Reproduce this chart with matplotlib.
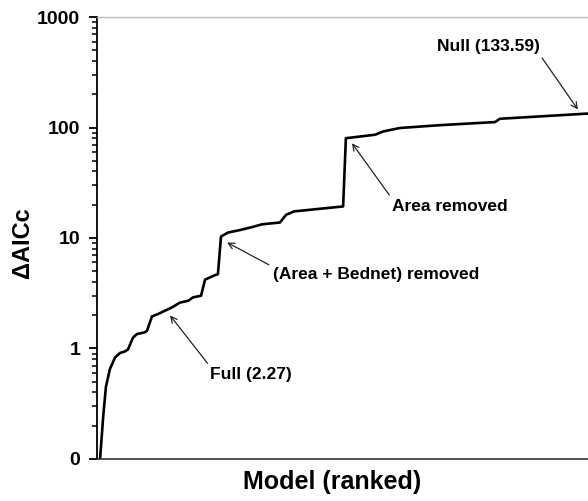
import matplotlib
matplotlib.use('Agg')
import matplotlib.pyplot as plt
from matplotlib.ticker import FixedLocator, FixedFormatter, LogLocator, NullFormatter

plt.rcParams['font.family'] = ['Liberation Sans', 'DejaVu Sans']
plt.rcParams['font.weight'] = 'bold'

# model rank (position along x) and delta AICc
rank = [1.0, 2.0, 2.9, 4.2, 5.9, 7.5, 9.1, 10.1, 11.7, 13.0, 15.6, 16.3, 17.9,
        19.9, 22.2, 24.4, 27.0, 29.7, 31.3, 33.9, 35.2, 38.4, 39.4, 40.4, 42.7,
        46.6, 50.8, 53.8, 59.6, 61.6, 64.2, 80.2, 81.1, 90.6, 93.2, 98.7,
        111.8, 129.7, 131.3, 159.7]
daicc = [0.1, 0.24, 0.45, 0.65, 0.83, 0.91, 0.94, 0.98, 1.25, 1.35, 1.4, 1.45,
         1.95, 2.05, 2.2, 2.35, 2.6, 2.7, 2.9, 3.0, 4.2, 4.6, 4.7, 10.3, 11.2,
         11.8, 12.6, 13.3, 13.8, 16.2, 17.4, 19.3, 80.0, 86.0, 92.0, 99.0,
         105.0, 112.0, 120.0, 133.59]

ytick_vals = [0.1, 1, 10, 100, 1000]
ytick_labels = ['0', '1', '10', '100', '1000']

# annotation: label, arrow tip, text position, arrow start corner
notes = [
    ('Null (133.59)', (156.7, 145.6), (127.4, 540.0), (1, 0)),
    ('Area removed', (83.1, 72.0), (115.0, 19.3), (0, 1)),
    ('(Area + Bednet) removed', (42.4, 9.1), (90.9, 4.68), (0, 1)),
    ('Full (2.27)', (23.8, 1.99), (50.3, 0.58), (0, 1)),
]

fig = plt.figure(figsize=(5.88, 5.01), dpi=100)
ax = fig.add_axes([0.165, 0.084, 0.835, 0.882])

ax.plot(rank, daicc, color='black', lw=1.9)
ax.set_yscale('log')
ax.set_ylim(0.1, 1000)
ax.set_xlim(0, 160)

ax.yaxis.set_major_locator(FixedLocator(ytick_vals))
ax.yaxis.set_major_formatter(FixedFormatter(ytick_labels))
ax.yaxis.set_minor_locator(LogLocator(base=10, subs=range(2, 10)))
ax.yaxis.set_minor_formatter(NullFormatter())
ax.tick_params(axis='y', which='major', direction='out', length=6, width=1.3,
               labelsize=14, pad=6)
ax.tick_params(axis='y', which='minor', direction='out', length=3.5, width=1.1)
ax.set_xticks([])

ax.spines['left'].set_linewidth(1.3)
ax.spines['bottom'].set_color('#333333')
ax.spines['bottom'].set_linewidth(1.2)
ax.spines['top'].set_color('#bbbbbb')
ax.spines['top'].set_linewidth(1.0)
ax.spines['right'].set_visible(False)

ax.set_ylabel('ΔAICc', fontsize=17, fontweight='bold')
ax.yaxis.set_label_coords(-0.128, 0.49)
ax.set_xlabel('Model (ranked)', fontsize=18, fontweight='bold', labelpad=8)
ax.xaxis.set_label_coords(0.479, -0.025)
ax.xaxis.label.set_va('top')

for label, tip, pos, corner in notes:
    ax.annotate(label, xy=tip, xytext=pos, ha='center', va='center',
                fontsize=12.5, fontweight='bold',
                arrowprops=dict(arrowstyle='->,head_length=0.35,head_width=0.18',
                                color='#222222', lw=0.9, relpos=corner,
                                shrinkA=1, shrinkB=0))

fig.savefig('out.png', dpi=100)
